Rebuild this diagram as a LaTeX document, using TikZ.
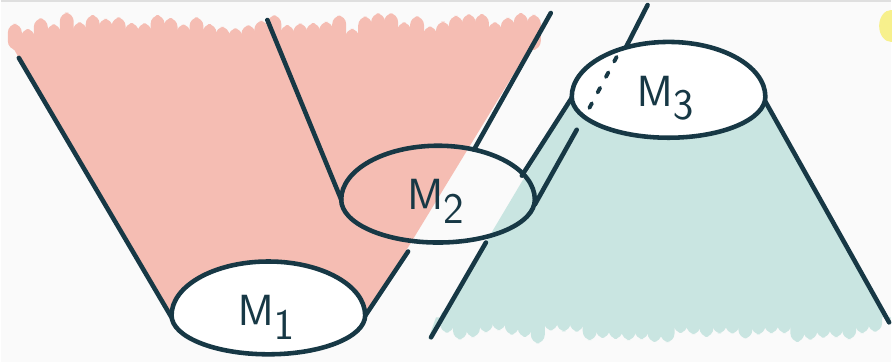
\documentclass[tikz,border=0pt]{standalone}
\usepackage{tikz}
\definecolor{inkline}{RGB}{23,56,69}
\definecolor{pinkcone}{RGB}{245,189,179}
\definecolor{tealcone}{RGB}{201,229,225}
\definecolor{paper}{RGB}{250,250,250}
\definecolor{sunblob}{RGB}{247,240,140}

\begin{document}
\begin{tikzpicture}[x=0.02cm, y=-0.02cm,
    ink/.style={draw=inkline, line width=2.6pt, line cap=round},
    finger/.style={rounded corners=5pt},
    mlabel/.style={font=\fontsize{36}{38}\selectfont, text=inkline}]
	\def\rx{97}
	\pgfmathsetseed{11}

	% paper
	\fill[paper] (0,0) rectangle (892,363);
	\draw[gray!25, line width=1pt] (0,1) -- (892,1);
	\useasboundingbox (0,0) rectangle (892,363);
	\fill[sunblob] (892,26) ellipse [x radius=12, y radius=16];

	% pink cone (M1)
	\fill[pinkcone] (18,58) -- (8,40) -- (536,40) -- (551,13)
		-- (364,320) -- (171,320) -- cycle;
	\foreach \x in {14,27,...,536} {
		\pgfmathsetmacro\tip{12+18*rnd}
		\fill[pinkcone, finger] (\x-7,50) rectangle (\x+7,\tip);
	}
	% teal cone (M3)
	\fill[tealcone] (572,98) -- (765,100) -- (890,323) -- (892,318)
		-- (436,318) -- (428,340) -- cycle;
	\foreach \x in {447,460,...,886} {
		\pgfmathsetmacro\tip{330+16*rnd}
		\fill[tealcone, finger] (\x-7,310) rectangle (\x+7,\tip);
	}

	% cone edges
	\draw[ink] (18,58) -- (171,318);
	\draw[ink] (267,20) -- (341,200);
	\draw[ink] (551,13) -- (474,150);
	\draw[ink] (408,252) -- (364,318);
	\draw[ink] (648,5) -- (626,48);
	\draw[ink] (572,98) -- (522,176);
	\draw[ink] (577,130) -- (535,205);
	\draw[ink] (486,243) -- (431,338);
	\draw[ink] (765,100) -- (890,323);

	% domes: centre / upper height / lower height / fill
	\foreach \cx/\cy/\up/\lo/\bg in {268/316/54/39/white, 438/200/54/43/none, 669/97/55/41/white} {
		\draw[ink, fill=\bg] (\cx-\rx,\cy)
			arc[start angle=180, end angle=360, x radius=\rx, y radius=\up]
			arc[start angle=0, end angle=180, x radius=\rx, y radius=\lo] -- cycle;
	}
	\draw[ink, line width=2.2pt, dash pattern=on 3pt off 7pt] (617,57) -- (586,115);

	\node[mlabel] (m1) at (266,318) {$\mathsf{M}_\mathsf{1}$};
	\node[mlabel] (m2) at (436,202) {$\mathsf{M}_\mathsf{2}$};
	\node[mlabel] (m3) at (666,98) {$\mathsf{M}_\mathsf{3}$};

\end{tikzpicture}
\end{document}
